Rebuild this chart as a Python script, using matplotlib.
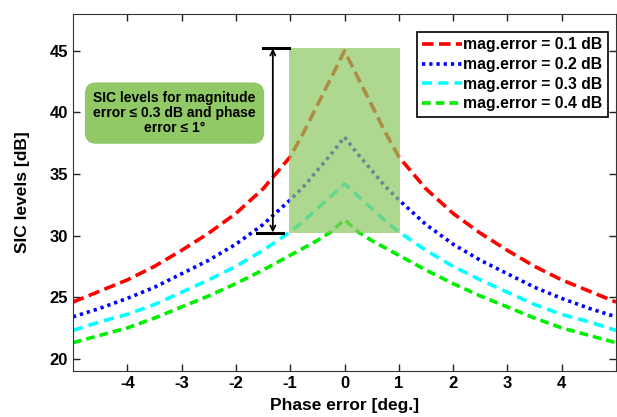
import numpy as np
import matplotlib
matplotlib.use("Agg")
import matplotlib.pyplot as plt

plt.rcParams['font.family'] = ['Liberation Sans', 'DejaVu Sans']
plt.rcParams['font.weight'] = 'bold'
plt.rcParams['axes.unicode_minus'] = False

# phase error [deg], left half; curves are symmetric about 0
half_phase = [-5, -4.5, -4, -3.5, -3, -2.5, -2, -1.5, -1, -0.75, -0.5, -0.25, 0]
sic_01 = [24.6, 25.5, 26.4, 27.5, 28.8, 30.2, 31.8, 33.8, 36.4, 38.4, 40.6, 42.8, 45.0]
sic_02 = [23.4, 24.1, 24.9, 25.8, 26.9, 28.0, 29.3, 30.9, 32.9, 34.0, 35.3, 36.6, 38.0]
sic_03 = [22.3, 23.0, 23.6, 24.4, 25.4, 26.4, 27.5, 28.8, 30.3, 31.2, 32.2, 33.2, 34.2]
sic_04 = [21.3, 21.9, 22.5, 23.3, 24.2, 25.1, 26.1, 27.2, 28.4, 29.0, 29.6, 30.3, 31.3]
labels = ['mag.error = 0.1 dB', 'mag.error = 0.2 dB',
          'mag.error = 0.3 dB', 'mag.error = 0.4 dB']

xticks = [-4, -3, -2, -1, 0, 1, 2, 3, 4]
yticks = [20, 25, 30, 35, 40, 45]


def mirror(vals):
    return np.concatenate([vals, vals[-2::-1]])


phase = np.concatenate([half_phase, -np.array(half_phase[-2::-1])])

fig = plt.figure(figsize=(6.17, 4.17), dpi=100)
ax = fig.add_axes([0.1183, 0.1103, 0.8801, 0.8561])

styles = [
    dict(color='#ff0000', dashes=(3.2, 1.5)),
    dict(color='#0000ff', dashes=(0.9, 1.1)),
    dict(color='#00ffff', dashes=(2.8, 1.7)),
    dict(color='#00ee00', dashes=(2.4, 1.4)),
]
for vals, lab, st in zip([sic_01, sic_02, sic_03, sic_04], labels, styles):
    ax.plot(phase, mirror(np.array(vals)), lw=2.6, label=lab, **st)

# shaded region (drawn over the curves, semi-transparent)
ax.add_patch(plt.Rectangle((-1.03, 30.25), 2.06, 14.95, facecolor='#8cc860',
                           alpha=0.7, edgecolor='none', zorder=3))

# double arrow with end caps
ax.annotate('', xy=(-1.32, 45.2), xytext=(-1.32, 30.25),
            arrowprops=dict(arrowstyle='<->', color='black', lw=1.3,
                            mutation_scale=9, shrinkA=0, shrinkB=0), zorder=4)
ax.plot([-1.5, -1.03], [45.2, 45.2], color='black', lw=2.2, zorder=4)
ax.plot([-1.61, -1.13], [30.25, 30.25], color='black', lw=2.2, zorder=4)

ax.text(-3.13, 39.95, 'SIC levels for magnitude\nerror \u2264 0.3 dB and phase\nerror \u2264 1\u00b0',
        ha='center', va='center', fontsize=10, fontweight='bold', linespacing=1.12,
        bbox=dict(boxstyle='round,pad=0.6,rounding_size=0.8', facecolor='#90c965',
                  edgecolor='none'), zorder=5)

ax.set_xlim(-5, 5)
ax.set_ylim(19, 48)
ax.set_xticks(xticks)
ax.set_yticks(yticks)
ax.tick_params(direction='in', length=5, top=True, right=True, labelsize=12,
               width=1, colors='#222222', labelcolor='black')
for lbl in ax.get_xticklabels() + ax.get_yticklabels():
    lbl.set_fontweight('bold')
for sp in ax.spines.values():
    sp.set_color('#333333')

ax.set_xlabel('Phase error [deg.]', fontsize=12.5, fontweight='bold', labelpad=5)
ax.set_ylabel('SIC levels [dB]', fontsize=12.5, fontweight='bold', labelpad=14)

leg = ax.legend(loc='upper right', bbox_to_anchor=(0.985, 0.95), fancybox=False,
                edgecolor='black', framealpha=1, handlelength=2.5,
                handletextpad=0.1, labelspacing=0.3, borderpad=0.35,
                borderaxespad=0, prop=dict(weight='bold', size=11.3))
leg.get_frame().set_linewidth(1.2)
leg.set_zorder(6)

fig.savefig('out.png', dpi=100)
